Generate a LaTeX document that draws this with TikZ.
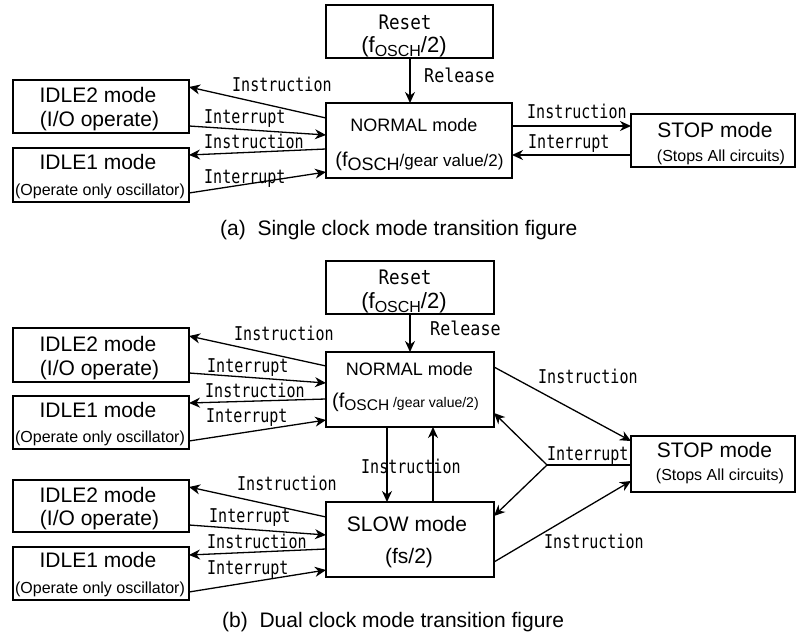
\documentclass[tikz,border=0pt]{standalone}
\usepackage{fontspec}
\setmainfont{Liberation Sans}
\newfontfamily\monon[FakeStretch=0.79]{DejaVu Sans Mono}
\newfontfamily\monow[FakeStretch=0.88]{DejaVu Sans Mono}
\usetikzlibrary{arrows.meta,calc}
\newcommand\fsz[1]{\fontsize{#1}{#1}\selectfont}
\begin{document}
\begin{tikzpicture}[x=1pt,y=-1pt,
  box/.style={draw, line width=1.4pt, inner sep=0pt, outer sep=0pt},
  arr/.style={line width=1.3pt, -{Stealth[length=11pt,width=10pt,inset=3.5pt]}},
  plain/.style={line width=1.3pt},
  lbl/.style={anchor=base west, inner sep=0pt, font=\fsz{19}\monon},
  txt/.style={anchor=base, inner sep=0pt},
  big/.style={txt, font=\fsz{21}},
  small/.style={txt, font=\fsz{16}},
  captxt/.style={anchor=base west, inner sep=0pt, font=\fsz{21}},
]
\useasboundingbox (0,0) rectangle (796,634);

% ================= (a) =================
\node[box, minimum width=167pt, minimum height=53pt] (rstA) at (409.5,31.5) {};
\node[box, minimum width=186pt, minimum height=75pt] (nrmA) at (419,140.5) {};
\node[box, minimum width=164pt, minimum height=53pt] (stpA) at (713,140.5) {};
\node[box, minimum width=176pt, minimum height=53pt] (i2A) at (101,106.5) {};
\node[box, minimum width=176pt, minimum height=54pt] (i1A) at (101,175) {};

\node[txt, font=\fsz{20}\monow] (rstAt1) at (405,30) {Reset};
\node[txt] (rstAt2) at (404,52.5) {{\fsz{22}(f}\raisebox{-4pt}{\fsz{16}OSCH}{\fsz{22}/2)}};
\node[txt, font=\fsz{18}] (nrmAt1) at (414,131.7) {NORMAL mode};
\node[txt] (nrmAt2) at (419.5,166) {{\fsz{20}(f}\raisebox{-4pt}{\fsz{18}OSCH}{\fsz{17}/gear value/2)}};
\node[big] (stpAt1) at (715,137) {STOP mode};
\node[small] (stpAt2) at (721,161) {(Stops All circuits)};
\node[big] (i2At1) at (98,102.7) {IDLE2 mode};
\node[big] (i2At2) at (99.5,126.7) {(I/O operate)};
\node[big] (i1At1) at (98,169) {IDLE1 mode};
\node[small] (i1At2) at (100,195) {(Operate only oscillator)};

\draw[arr] (rstA.south -| 410,0) -- (nrmA.north -| 410,0);
\draw[arr] ($(nrmA.west)+(0,-22.5)$) -- ($(i2A.east)+(0,-19.5)$);
\draw[arr] ($(i2A.east)+(0,19.5)$) -- ($(nrmA.west)+(0,-5.5)$);
\draw[arr] ($(nrmA.west)+(0,8.5)$) -- ($(i1A.east)+(0,-20)$);
\draw[arr] ($(i1A.east)+(0,18)$) -- ($(nrmA.west)+(0,31.5)$);
\draw[arr] ($(nrmA.east)+(0,-14.5)$) -- ($(stpA.west)+(0,-14.5)$);
\draw[arr] ($(stpA.west)+(0,14.5)$) -- ($(nrmA.east)+(0,14.5)$);

\node[lbl, font=\fsz{19}\monow] (relA) at (424,83) {Release};
\node[lbl] (la1) at (232,92) {Instruction};
\node[lbl] (la2) at (204,124) {Interrupt};
\node[lbl] (la3) at (204,148) {Instruction};
\node[lbl] (la4) at (204,183.5) {Interrupt};
\node[lbl] (la5) at (527,118) {Instruction};
\node[lbl] (la6) at (528,149) {Interrupt};

\node[captxt] (capA) at (220,235) {(a)\ \ Single clock mode transition figure};

% ================= (b) =================
\node[box, minimum width=168pt, minimum height=53pt] (rstB) at (410,287.5) {};
\node[box, minimum width=168pt, minimum height=75pt] (nrmB) at (410,389.5) {};
\node[box, minimum width=168pt, minimum height=75pt] (slwB) at (410,539.5) {};
\node[box, minimum width=164pt, minimum height=56pt] (stpB) at (713,464) {};
\node[box, minimum width=176pt, minimum height=54pt] (i2B) at (101,355) {};
\node[box, minimum width=176pt, minimum height=53pt] (i1B) at (101,422.5) {};
\node[box, minimum width=176pt, minimum height=52pt] (i2C) at (101,506) {};
\node[box, minimum width=176pt, minimum height=53pt] (i1C) at (101,573.5) {};

\node[txt, font=\fsz{20}\monow] (rstBt1) at (405,284.5) {Reset};
\node[txt] (rstBt2) at (404,308.5) {{\fsz{22}(f}\raisebox{-4pt}{\fsz{16}OSCH}{\fsz{22}/2)}};
\node[txt, font=\fsz{18}] (nrmBt1) at (409.5,375) {NORMAL mode};
\node[anchor=base west, inner sep=0pt] (nrmBt2) at (332,407) {{\fsz{20}(f}\raisebox{-3pt}{\fsz{15.5}OSCH}{\fsz{14}\ /gear value/2)}};
\node[big] (slwBt1) at (407,531) {SLOW mode};
\node[big] (slwBt2) at (409,563) {(fs/2)};
\node[big] (stpBt1) at (714.5,457) {STOP mode};
\node[small] (stpBt2) at (720,480) {(Stops All circuits)};
\node[big] (i2Bt1) at (98,351) {IDLE2 mode};
\node[big] (i2Bt2) at (99.5,375) {(I/O operate)};
\node[big] (i1Bt1) at (98,417) {IDLE1 mode};
\node[small] (i1Bt2) at (100,442) {(Operate only oscillator)};
\node[big] (i2Ct1) at (98,502) {IDLE2 mode};
\node[big] (i2Ct2) at (99.5,525.5) {(I/O operate)};
\node[big] (i1Ct1) at (98,567) {IDLE1 mode};
\node[small] (i1Ct2) at (100,593) {(Operate only oscillator)};

\draw[arr] (rstB.south -| 410,0) -- (nrmB.north -| 410,0);
\draw[arr] (nrmB.south -| 387,0) -- (slwB.north -| 387,0);
\draw[arr] (slwB.north -| 433,0) -- (nrmB.south -| 433,0);

\draw[arr] ($(nrmB.west)+(0,-23.5)$) -- ($(i2B.east)+(0,-19)$);
\draw[arr] ($(i2B.east)+(0,18)$) -- ($(nrmB.west)+(0,-6.5)$);
\draw[arr] ($(nrmB.west)+(0,9.5)$) -- ($(i1B.east)+(0,-19.5)$);
\draw[arr] ($(i1B.east)+(0,18.5)$) -- ($(nrmB.west)+(0,30.5)$);

\draw[arr] ($(slwB.west)+(0,-22.5)$) -- ($(i2C.east)+(0,-19)$);
\draw[arr] ($(i2C.east)+(0,19)$) -- ($(slwB.west)+(0,-4.5)$);
\draw[arr] ($(slwB.west)+(0,9.5)$) -- ($(i1C.east)+(0,-18.5)$);
\draw[arr] ($(i1C.east)+(0,18.5)$) -- ($(slwB.west)+(0,30.5)$);

\coordinate (br) at (547,465);
\draw[arr] ($(nrmB.east)+(0,-22.5)$) -- ($(stpB.west)+(0,-23)$);
\draw[plain] ($(stpB.west)+(0,1)$) -- (br);
\draw[arr] (br) -- ($(nrmB.east)+(0,23.5)$);
\draw[arr] (br) -- ($(slwB.east)+(0,-23.5)$);
\draw[arr] ($(slwB.east)+(0,22.5)$) -- ($(stpB.west)+(0,17)$);

\node[lbl, font=\fsz{19}\monow] (relB) at (430,335) {Release};
\node[lbl] (lb1) at (234,340) {Instruction};
\node[lbl] (lb2) at (207,372.7) {Interrupt};
\node[lbl] (lb3) at (205,397.3) {Instruction};
\node[lbl] (lb4) at (206,422.3) {Interrupt};
\node[lbl] (lb5) at (237,490.7) {Instruction};
\node[lbl] (lb6) at (209,522.7) {Interrupt};
\node[lbl] (lb7) at (207,548.3) {Instruction};
\node[lbl] (lb8) at (207,574) {Interrupt};
\node[lbl] (lb9) at (361,473.3) {Instruction};
\node[lbl] (lb10) at (538,383.3) {Instruction};
\node[lbl] (lb11) at (547,460) {Interrupt};
\node[lbl] (lb12) at (544,548.3) {Instruction};

\node[captxt] (capB) at (222,627) {(b)\ \ Dual clock mode transition figure};
\end{tikzpicture}
\end{document}
